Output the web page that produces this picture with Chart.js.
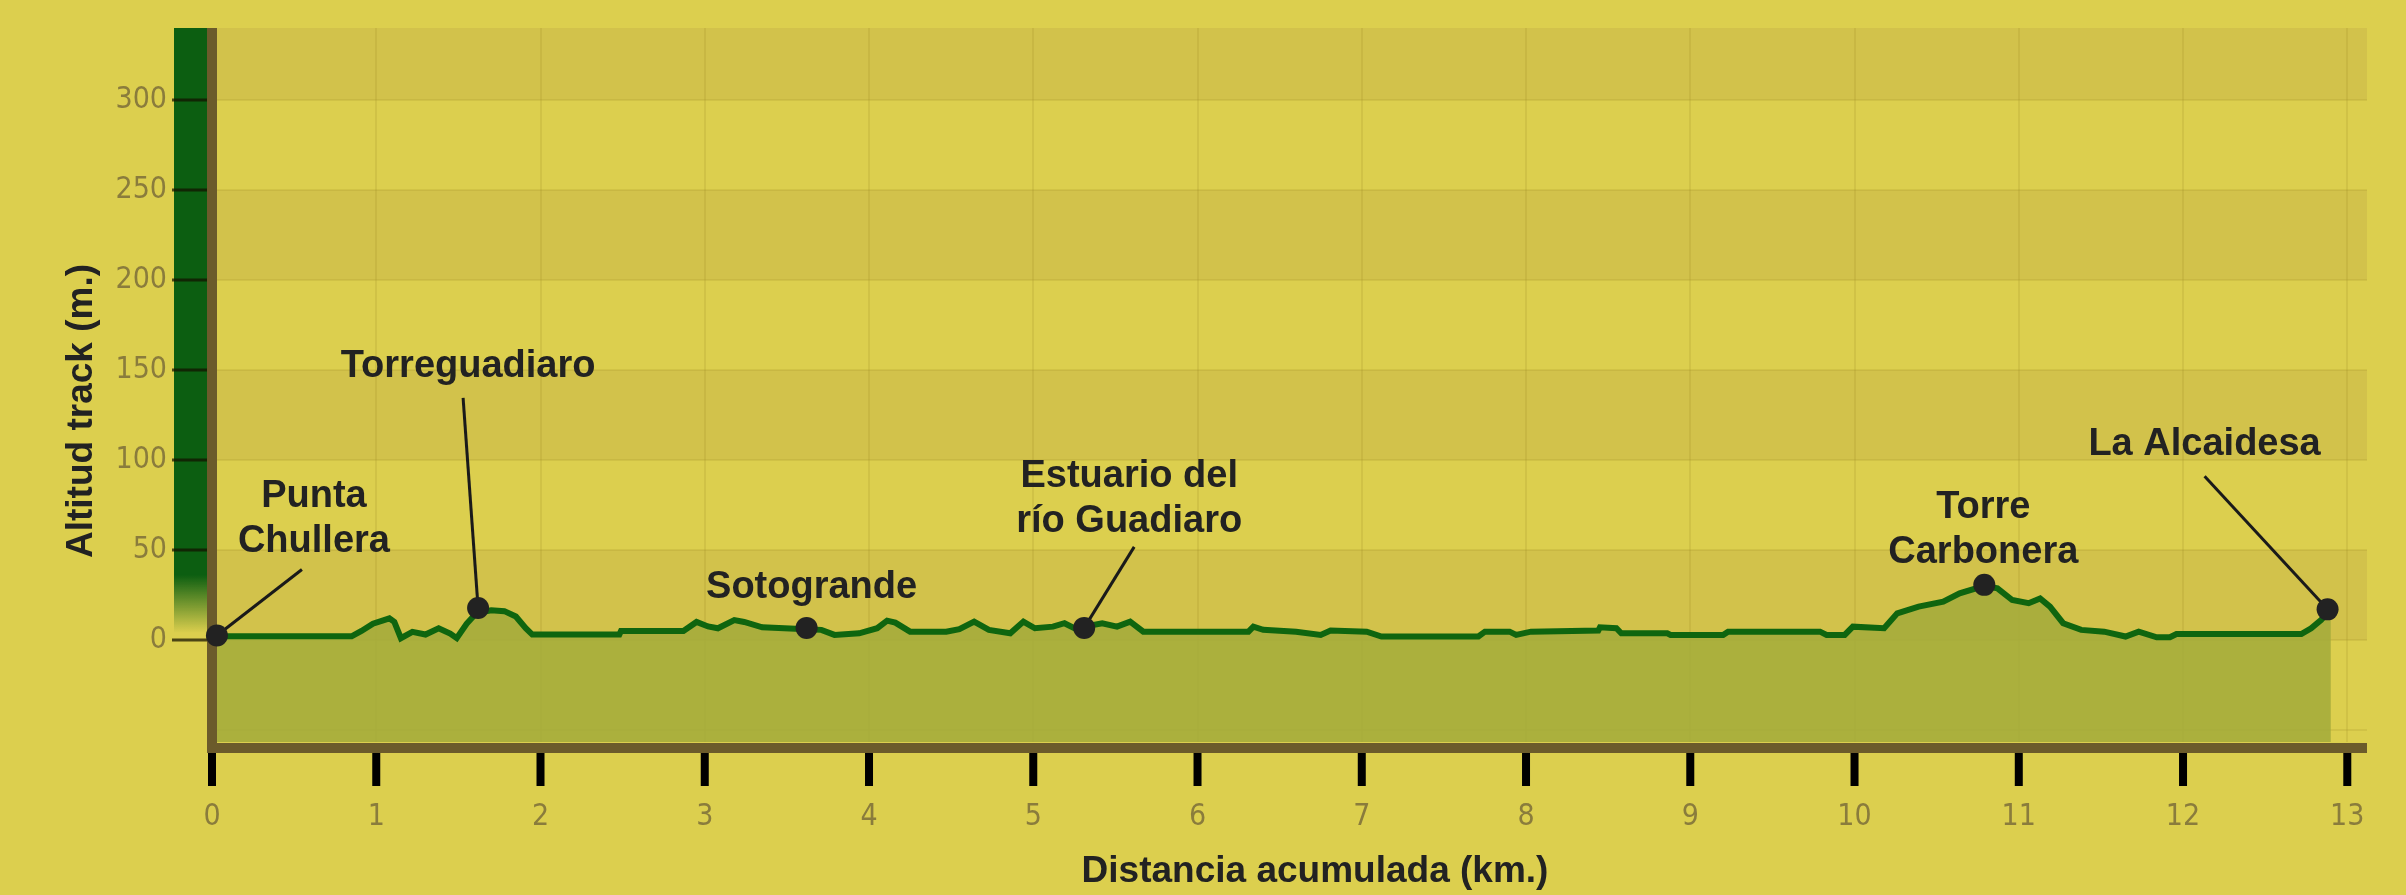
<!DOCTYPE html>
<html>
<head>
<meta charset="utf-8">
<script src="https://cdn.jsdelivr.net/npm/chart.js@4"></script>
<style>
  html, body { margin: 0; padding: 0; background: #dccf4e; }
  canvas { display: block; }
</style>
</head>
<body>
<canvas id="perfil" width="2406" height="895"></canvas>
<script>
// perfil de altitud del track
const distKm = [0, 0.85, 0.91, 0.98, 1.08, 1.11, 1.15, 1.22, 1.30, 1.38,
  1.45, 1.49, 1.55, 1.61, 1.70, 1.78, 1.85, 1.91, 1.95, 2.48,
  2.49, 2.87, 2.95, 3.02, 3.08, 3.18, 3.24, 3.35, 3.62, 3.71,
  3.79, 3.94, 4.05, 4.11, 4.16, 4.25, 4.47, 4.55, 4.64, 4.73,
  4.86, 4.94, 5.01, 5.12, 5.19, 5.25, 5.31, 5.42, 5.51, 5.59,
  5.67, 6.31, 6.34, 6.40, 6.60, 6.75, 6.81, 7.03, 7.12, 7.71,
  7.75, 7.90, 7.94, 8.03, 8.44, 8.45, 8.55, 8.58, 8.86, 8.88,
  9.20, 9.23, 9.79, 9.83, 9.94, 9.99, 10.18, 10.26, 10.39, 10.54,
  10.64, 10.79, 10.87, 10.96, 11.06, 11.13, 11.19, 11.27, 11.38, 11.52,
  11.65, 11.73, 11.84, 11.92, 11.96, 12.72, 12.78, 12.84, 12.90]
const altM = [2, 2, 5, 9, 12, 10, 1, 4.5, 3, 6.5,
  3.5, 1, 9, 15, 16.5, 16, 13, 6.5, 3, 3,
  5, 5, 10, 7.5, 6.5, 11, 10, 7, 6, 5.6,
  2.8, 3.7, 6.5, 10.7, 9.6, 4.6, 4.6, 6, 10.2, 5.6,
  3.7, 10.2, 6.5, 7.4, 9.3, 6.5, 7.4, 9.3, 7.4, 10.2,
  4.6, 4.6, 7.4, 5.6, 4.6, 2.8, 5.2, 4.6, 1.9, 1.9,
  4.6, 4.6, 2.8, 4.6, 5.2, 7, 6.5, 3.7, 3.7, 2.8,
  2.8, 4.6, 4.6, 2.8, 2.8, 7.4, 6.5, 14.8, 18.5, 21.3,
  25.9, 30, 28.7, 22.2, 20.4, 23.1, 18.5, 9.3, 5.6, 4.6,
  1.9, 4.6, 1.5, 1.5, 3.3, 3.3, 6.5, 11.1, 17]

// puntos de interes
const placeNames = [['Punta', 'Chullera'], ['Torreguadiaro'], ['Sotogrande'],
  ['Estuario del', 'río Guadiaro'], ['Torre', 'Carbonera'], ['La Alcaidesa']]
const placeKm = [0.03, 1.62, 3.62, 5.31, 10.79, 12.88]
const placeAlt = [2.5, 17.8, 6.7, 6.7, 30.6, 17]

// ticks
const xTicks = [0, 1, 2, 3, 4, 5, 6, 7, 8, 9, 10, 11, 12, 13]
const yTicks = [-50, 0, 50, 100, 150, 200, 250, 300]
const yLabelled = [0, 50, 100, 150, 200, 250, 300]

const X_MAX = 13.12, Y_MIN = -56.7, Y_MAX = 340

// where each label sits relative to its dot (px)
const labelLayout = [
  { dx: 97, dy: -139, lead: [85, -66] },
  { dx: -10, dy: -241, lead: [-15, -210] },
  { dx: 5, dy: -40, lead: null },
  { dx: 45, dy: -151, lead: [50, -81] },
  { dx: -1, dy: -77, lead: null },
  { dx: -123, dy: -165, lead: [-123, -133] }
]

const BOLD = 'bold 38px "Liberation Sans", Arial, sans-serif'
const DARK = '#222'
const BROWN = '#6b5b2b'

const decor = {
  id: 'decor',
  beforeDraw(chart) {
    const { ctx, chartArea: a, scales: { y } } = chart
    ctx.save()
    // alternating bands
    ctx.fillStyle = '#d2c24b'
    for (let v = 0; v <= 300; v += 100) {
      const t = y.getPixelForValue(Math.min(v + 50, Y_MAX))
      const b = y.getPixelForValue(v)
      ctx.fillRect(a.left, t, a.right - a.left, b - t)
    }
    // green altitude bar on the axis
    const barTop = a.top, barBot = y.getPixelForValue(4)
    const g = ctx.createLinearGradient(0, barTop, 0, barBot)
    g.addColorStop(0, '#0c5e11')
    g.addColorStop((y.getPixelForValue(36) - barTop) / (barBot - barTop), '#0c5e11')
    g.addColorStop(1, 'rgba(12,94,17,0)')
    ctx.fillStyle = g
    ctx.fillRect(a.left - 38, barTop, 33, barBot - barTop)
    ctx.restore()
  },
  afterDatasetsDraw(chart) {
    const { ctx, chartArea: a, scales: { x, y } } = chart
    ctx.save()
    // y tick marks
    ctx.strokeStyle = 'rgba(20,15,0,0.72)'
    ctx.lineWidth = 3
    yLabelled.forEach(v => {
      const py = y.getPixelForValue(v)
      ctx.beginPath(); ctx.moveTo(a.left - 40, py); ctx.lineTo(a.left - 5, py); ctx.stroke()
    })
    // axis frame
    ctx.fillStyle = BROWN
    ctx.fillRect(a.left - 5, a.top, 10, a.bottom + 11 - a.top)
    ctx.fillRect(a.left - 5, a.bottom + 1, a.right - a.left + 5, 10)
    // x tick marks
    ctx.fillStyle = '#000'
    xTicks.forEach(v => {
      const px = x.getPixelForValue(v)
      ctx.fillRect(px - 4, a.bottom + 11, 8, 33)
    })
    // places
    ctx.font = BOLD
    ctx.textAlign = 'center'
    ctx.textBaseline = 'middle'
    placeKm.forEach((km, i) => {
      const px = x.getPixelForValue(km), py = y.getPixelForValue(placeAlt[i])
      const L = labelLayout[i]
      if (L.lead) {
        ctx.strokeStyle = '#1a1a1a'
        ctx.lineWidth = 3
        ctx.beginPath(); ctx.moveTo(px + L.lead[0], py + L.lead[1]); ctx.lineTo(px, py); ctx.stroke()
      }
      ctx.fillStyle = DARK
      ctx.beginPath(); ctx.arc(px, py, 11, 0, Math.PI * 2); ctx.fill()
      placeNames[i].forEach((s, k) => ctx.fillText(s, px + L.dx, py + L.dy + k * 45))
    })
    // axis titles
    ctx.font = 'bold 37px "Liberation Sans", Arial, sans-serif'
    ctx.fillText('Distancia acumulada (km.)', 1315, 872)
    ctx.translate(82, 411)
    ctx.rotate(-Math.PI / 2)
    ctx.fillText('Altitud track (m.)', 0, 0)
    ctx.restore()
  }
}

const points = distKm.map((d, i) => ({ x: d, y: altM[i] }))
const tickFont = { family: '"DejaVu Sans Condensed", "DejaVu Sans", sans-serif', size: 30 }
const gridColor = 'rgba(150,128,30,0.16)'

const noPad = s => { s.paddingTop = 0; s.paddingBottom = 0; s.paddingLeft = 0; s.paddingRight = 0 }

new Chart(document.getElementById('perfil'), {
  type: 'line',
  data: {
    datasets: [{
      data: points,
      borderColor: '#0f650f',
      borderWidth: 6,
      backgroundColor: 'rgba(165,172,60,0.9)',
      fill: 'start',
      pointRadius: 0,
      tension: 0
    }]
  },
  options: {
    responsive: false,
    animation: false,
    devicePixelRatio: 1,
    layout: { padding: { top: 28, right: 39, left: 0, bottom: 0 } },
    plugins: { legend: { display: false }, tooltip: { enabled: false } },
    scales: {
      x: {
        type: 'linear',
        min: 0,
        max: X_MAX,
        afterFit: s => { noPad(s); s.height = 153 },
        afterBuildTicks: s => { s.ticks = xTicks.map(v => ({ value: v })) },
        grid: { color: gridColor, lineWidth: 2, drawTicks: false },
        border: { display: false },
        ticks: { color: '#8a7c3c', font: tickFont, padding: 57, maxRotation: 0 }
      },
      y: {
        min: Y_MIN,
        max: Y_MAX,
        afterFit: s => { noPad(s); s.width = 212 },
        afterBuildTicks: s => { s.ticks = yTicks.map(v => ({ value: v })) },
        grid: { color: gridColor, lineWidth: 2, drawTicks: false },
        border: { display: false },
        ticks: {
          color: '#8a7c3c',
          font: tickFont,
          padding: 45,
          callback: v => (yLabelled.includes(v) ? String(v) : '')
        }
      }
    }
  },
  plugins: [decor]
})
</script>
</body>
</html>
